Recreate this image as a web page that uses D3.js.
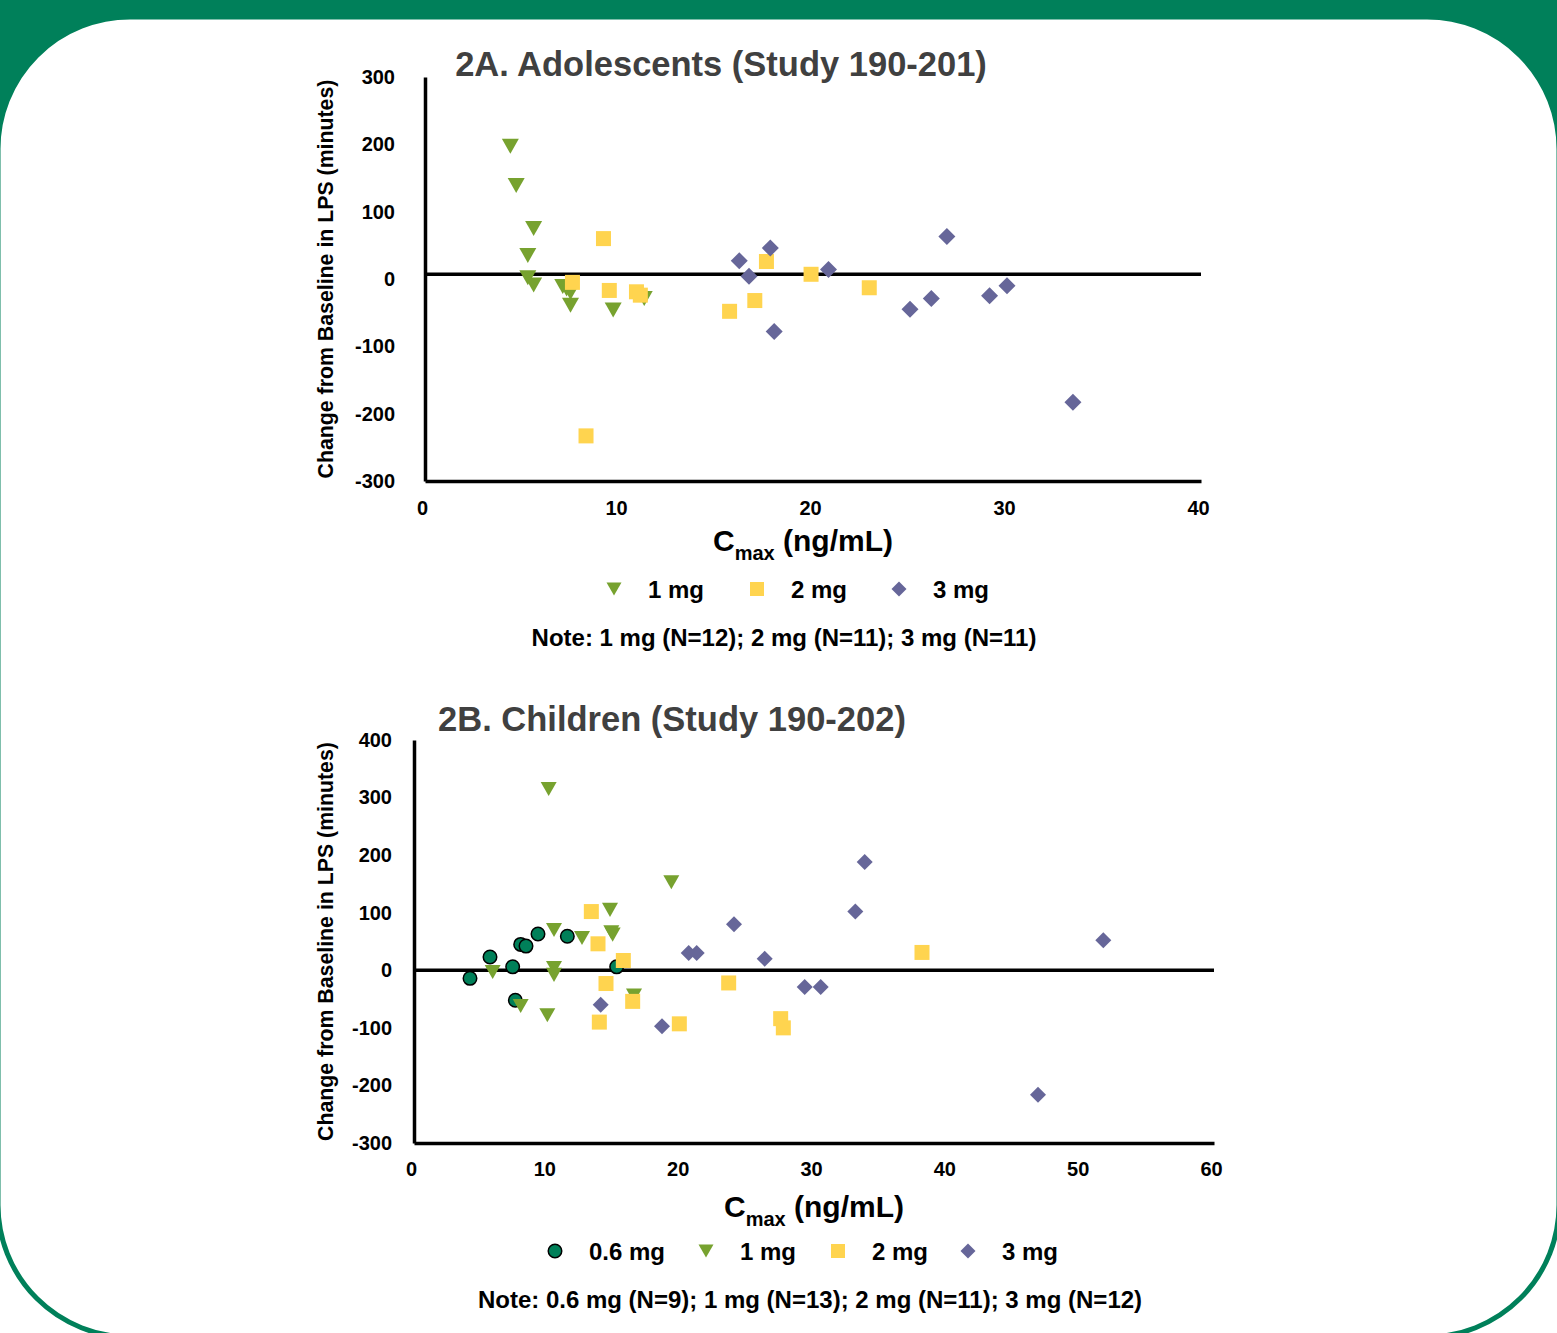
<!DOCTYPE html>
<html lang="en">
<head>
<meta charset="UTF-8">
<title>Cmax vs change in LPS</title>
<script src="https://cdn.jsdelivr.net/npm/d3@7"></script>
<style>
  body { margin: 0; background: #fff; }
  svg text { font-family: "Liberation Sans", Arial, sans-serif; font-weight: bold; }
</style>
</head>
<body>
<div id="app"></div>
<script>
// ---- 2A adolescents: [Cmax ng/mL, change in LPS min]
const adol1mg = [[4.4, 197], [4.7, 139], [5.6, 75], [5.3, 35], [5.3, 2], [5.6, -9],
  [7.1, -11], [7.3, -15], [7.5, -20], [7.5, -39], [9.7, -46], [11.3, -29]];
const adol2mg = [[9.2, 60], [7.6, -5], [9.5, -17], [10.9, -19], [11.1, -24], [15.7, -48],
  [8.3, -233], [17.0, -32], [17.6, 26], [19.9, 7], [22.9, -13]];
const adol3mg = [[16.2, 27], [17.8, 46], [16.7, 4], [18.0, -78], [20.8, 14], [26.9, 63],
  [25.0, -45], [26.1, -29], [29.1, -25], [30.0, -10], [33.4, -183]];

// ---- 2B children
const child06mg = [[4.2, -14], [5.7, 23], [7.4, 6], [8.0, 45], [8.4, 42], [9.3, 63],
  [11.5, 59], [15.2, 6], [7.6, -52]];
const child1mg = [[10.1, 315], [19.3, 153], [14.7, 105], [14.9, 62], [14.8, 66], [10.5, 70],
  [12.6, 56], [5.9, -3], [10.5, 4], [10.5, -8], [16.5, -44], [8.0, -62], [10.0, -78]];
const child2mg = [[13.3, 102], [13.8, 46], [15.7, 17], [14.4, -23], [16.4, -54], [13.9, -90],
  [19.9, -93], [23.6, -22], [27.5, -84], [27.7, -100], [38.1, 31]];
const child3mg = [[33.8, 188], [33.1, 102], [24.0, 80], [20.6, 30], [21.2, 30], [26.3, 20],
  [29.3, -29], [30.5, -29], [14.0, -60], [18.6, -97], [51.7, 52], [46.8, -216]];

const yTicksA = [300, 200, 100, 0, -100, -200, -300];
const xTicksA = [0, 10, 20, 30, 40];
const yTicksB = [400, 300, 200, 100, 0, -100, -200, -300];
const xTicksB = [0, 10, 20, 30, 40, 50, 60];

const green = "#00805a";
const styles = {
  "0.6 mg": { shape: "circle", color: "#008059" },
  "1 mg": { shape: "triangle", color: "#77a22f" },
  "2 mg": { shape: "square", color: "#ffd44f" },
  "3 mg": { shape: "diamond", color: "#666699" }
};

const W = 1557, H = 1333;
const svg = d3.select("#app").append("svg").attr("width", W).attr("height", H);

// framed background: green only behind the top corners
svg.append("rect").attr("width", W).attr("height", H).attr("fill", "#fff");
svg.append("rect").attr("width", W).attr("height", 300).attr("fill", green);
svg.append("rect")
  .attr("x", -2).attr("y", 17).attr("width", W + 4).attr("height", 1320)
  .attr("rx", 132).attr("ry", 132)
  .attr("fill", "#fff").attr("stroke", green).attr("stroke-width", 5);

function drawMarker (g, shape, color, size) {
  const h = size / 2;
  if (shape === "circle") {
    return g.append("circle").attr("r", h - 0.75).attr("fill", color)
      .attr("stroke", "#000").attr("stroke-width", 1.5);
  }
  if (shape === "square") {
    return g.append("rect").attr("x", -h).attr("y", -h).attr("width", size).attr("height", size)
      .attr("fill", color);
  }
  let d = shape === "triangle"
    ? `M${-h},${-h * 0.88}L${h},${-h * 0.88}L0,${h * 0.88}Z`
    : `M0,${-h}L${h},0L0,${h}L${-h},0Z`;
  return g.append("path").attr("d", d).attr("fill", color);
}

function panel (cfg) {
  const x = d3.scaleLinear().domain(cfg.xDomain).range(cfg.xRange);
  const y = d3.scaleLinear().domain(cfg.yDomain).range(cfg.yRange);
  const g = svg.append("g");

  // title
  g.append("text").attr("x", cfg.titleX).attr("y", cfg.titleY)
    .attr("text-anchor", "middle").attr("font-size", 34.5).attr("fill", "#404040")
    .text(cfg.title);

  // axes
  const yAxis = g.append("g").attr("transform", `translate(${cfg.xRange[0]},0)`)
    .call(d3.axisLeft(y).tickValues(cfg.yTicks).tickSize(0).tickPadding(cfg.yPad).tickFormat(d => String(d)));
  const xAxis = g.append("g").attr("transform", `translate(0,${cfg.yRange[0]})`)
    .call(d3.axisBottom(x).tickValues(cfg.xTicks).tickSize(0).tickPadding(cfg.xPad).tickFormat(d => String(d)));
  [yAxis, xAxis].forEach(a => {
    a.select(".domain").attr("stroke", "#000").attr("stroke-width", 3.5);
    a.selectAll("text").attr("font-size", 20).attr("fill", "#000")
      .style("font-family", "'Liberation Sans', Arial, sans-serif").style("font-weight", "bold");
  });
  xAxis.selectAll("text").attr("dx", -3);

  // reference line
  g.append("line")
    .attr("x1", cfg.xRange[0]).attr("x2", cfg.xRange[1])
    .attr("y1", y(cfg.refLine)).attr("y2", y(cfg.refLine))
    .attr("stroke", "#000").attr("stroke-width", 3.5);

  // y axis title
  const yMid = (cfg.yRange[0] + cfg.yRange[1]) / 2;
  g.append("text").attr("transform", `translate(${cfg.yTitleX},${yMid}) rotate(-90)`)
    .attr("text-anchor", "middle").attr("font-size", 21.3)
    .text("Change from Baseline in LPS (minutes)");

  // x axis title with subscript
  const xt = g.append("text").attr("x", cfg.xTitleX).attr("y", cfg.xTitleY)
    .attr("text-anchor", "middle").attr("font-size", 30);
  xt.append("tspan").text("C");
  xt.append("tspan").attr("font-size", 20).attr("dy", 9).text("max");
  xt.append("tspan").attr("dy", -9).text(" (ng/mL)");

  // points
  cfg.series.forEach(s => {
    const st = styles[s.name];
    g.append("g").selectAll("g").data(s.values).join("g")
      .attr("transform", d => `translate(${x(d[0])},${y(d[1])})`)
      .each(function () { drawMarker(d3.select(this), st.shape, st.color, cfg.markerSize[st.shape]); });
  });

  // legend
  cfg.series.forEach((s, i) => {
    const st = styles[s.name];
    const lg = g.append("g").attr("transform", `translate(${cfg.legendX[i]},${cfg.legendY})`);
    drawMarker(lg, st.shape, st.color, st.shape === "square" ? 14 : 15);
    lg.append("text").attr("x", 34).attr("y", 9).attr("font-size", 24).text(s.name);
  });

  g.append("text").attr("x", cfg.noteX).attr("y", cfg.noteY)
    .attr("text-anchor", "middle").attr("font-size", 24).text(cfg.note);
}

panel({
  title: "2A. Adolescents (Study 190-201)", titleX: 721, titleY: 76,
  xDomain: [0, 40], xRange: [425, 1201], xTicks: xTicksA,
  yDomain: [-300, 300], yRange: [481, 77], yTicks: yTicksA,
  yPad: 30, xPad: 20, refLine: 7,
  yTitleX: 333, xTitleX: 803, xTitleY: 551,
  markerSize: { circle: 15, triangle: 17, square: 15, diamond: 17 },
  series: [
    { name: "1 mg", values: adol1mg },
    { name: "2 mg", values: adol2mg },
    { name: "3 mg", values: adol3mg }
  ],
  legendX: [614, 757, 899], legendY: 589,
  note: "Note: 1 mg (N=12); 2 mg (N=11); 3 mg (N=11)", noteX: 784, noteY: 646
});

panel({
  title: "2B. Children (Study 190-202)", titleX: 672, titleY: 731,
  xDomain: [0, 60], xRange: [414, 1214], xTicks: xTicksB,
  yDomain: [-300, 400], yRange: [1143, 740], yTicks: yTicksB,
  yPad: 22, xPad: 19, refLine: 0,
  yTitleX: 333, xTitleX: 814, xTitleY: 1217,
  markerSize: { circle: 15, triangle: 16, square: 15, diamond: 16 },
  series: [
    { name: "0.6 mg", values: child06mg },
    { name: "1 mg", values: child1mg },
    { name: "2 mg", values: child2mg },
    { name: "3 mg", values: child3mg }
  ],
  legendX: [555, 706, 838, 968], legendY: 1251,
  note: "Note: 0.6 mg (N=9); 1 mg (N=13); 2 mg (N=11); 3 mg (N=12)", noteX: 810, noteY: 1308
});
</script>
</body>
</html>
